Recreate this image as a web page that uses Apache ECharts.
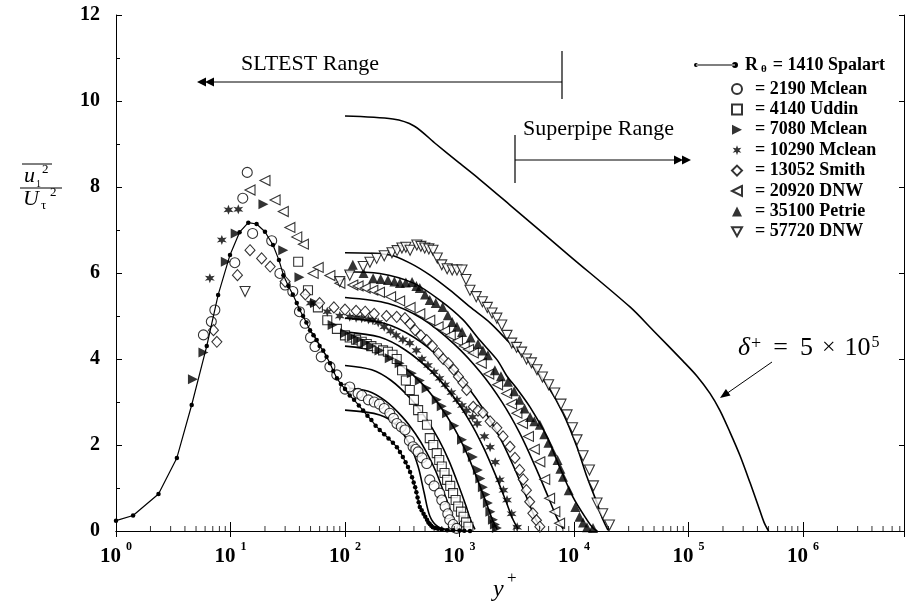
<!DOCTYPE html>
<html>
<head>
<meta charset="utf-8">
<script src="https://cdn.jsdelivr.net/npm/echarts@6/dist/echarts.min.js"></script>
<style>
  html, body { margin: 0; padding: 0; background: #fff; }
  #chart { width: 906px; height: 607px; }
</style>
</head>
<body>
<div id="chart"></div>
<script>
// ---- legend names (Reynolds number R_theta and source) ----
const names = ['1410 Spalart', '2190 Mclean', '4140 Uddin', '7080 Mclean', '10290 Mclean',
               '13052 Smith', '20920 DNW', '35100 Petrie', '57720 DNW'];

// ---- measured data: [y+, u1^2/Utau^2] ----
const spalart1410 = [[1.0,0.24],[1.41,0.36],[2.35,0.86],[3.4,1.7],[4.58,2.93],[6.2,4.3],[7.8,5.49],[9.9,6.42],
  [12.0,6.95],[14.3,7.17],[16.9,7.14],[20.0,6.96],[23.5,6.65],[26.5,6.3],[29.0,5.95],[32.0,5.7],[35,5.5],
  [37.9,5.3],[40,5.15],[43,5.0],[46,4.85],[49.5,4.67],[53,4.55],[56.6,4.44],[60,4.3],[64.5,4.2],[69,4.05],
  [74,3.9],[79,3.72],[85,3.55],[92,3.42],[100,3.3],[110,3.15],[120,3.05],[132,2.92],[144,2.8],[157,2.68],
  [170,2.58],[185,2.45],[201,2.35],[220,2.25],[240,2.15],[262,2.05],[284,1.95],[302,1.84],[320,1.72],
  [338,1.6],[355,1.49],[370,1.37],[385,1.25],[398,1.13],[410,1.02],[420,0.9],[430,0.78],[440,0.67],
  [450,0.56],[467,0.48],[485,0.4],[502,0.33],[520,0.26],[535,0.2],[550,0.16],[567,0.12],[585,0.09],
  [615,0.07],[650,0.05],[700,0.035],[780,0.02],[880,0.015],[1000,0.01],[1100,0.005],[1235,0.0]];
const mclean2190 = [[5.8,4.56],[6.8,4.87],[7.3,5.14],[10.9,6.24],[12.8,7.74],[14.0,8.34],[15.6,6.92],[22.9,6.75],
  [27,5.99],[30,5.72],[35,5.57],[40,5.1],[44.8,4.83],[50,4.5],[54.7,4.29],[62,4.05],[73.8,3.82],[84.8,3.63],
  [100,3.3],[110,3.35],[130,3.2],[140,3.15],[160,3.05],[180,3.0],[200,2.95],[220,2.85],[246,2.74],[265,2.62],
  [284,2.5],[310,2.42],[334,2.35],[365,2.1],[393,1.96],[415,1.9],[435,1.84],[470,1.7],[517,1.57],[550,1.19],
  [600,1.05],[672,0.88],[700,0.72],[748,0.57],[790,0.4],[821,0.26],[880,0.15],[945,0.06]];
const uddin4140 = [[39,6.26],[47.5,5.6],[58,5.2],[70,4.9],[85,4.7],[100,4.55],[110,4.5],[125,4.45],[140,4.4],
  [155,4.35],[170,4.3],[190,4.25],[215,4.2],[237,4.17],[260,4.1],[283,4.0],[315,3.74],[340,3.5],[368,3.28],
  [400,3.05],[435,2.81],[475,2.65],[520,2.47],[550,2.16],[590,2.0],[633,1.81],[665,1.65],[700,1.5],[740,1.35],
  [779,1.19],[830,1.05],[879,0.88],[925,0.72],[974,0.57],[1030,0.45],[1085,0.33],[1140,0.2],[1195,0.1]];
const mclean7080 = [[4.7,3.53],[5.8,4.15],[9.1,6.26],[11.1,6.92],[19.4,7.6],[28.9,6.53],[40,5.9],[55,5.3],
  [78,4.79],[100,4.6],[115,4.52],[130,4.45],[150,4.38],[170,4.3],[200,4.2],[246,4.02],[300,3.9],[383,3.67],
  [450,3.5],[516,3.32],[633,3.05],[700,2.9],[779,2.74],[900,2.45],[1052,2.12],[1180,1.92],[1309,1.72],
  [1446,1.42],[1520,1.22],[1600,1.02],[1680,0.85],[1770,0.65],[1860,0.45],[1958,0.26],[2040,0.15],[2120,0.07]];
const mclean10290 = [[6.6,5.88],[8.4,6.77],[9.6,7.47],[11.7,7.48],[50,5.3],[70,5.1],[90,5.0],[110,4.98],
  [125,4.96],[140,4.95],[160,4.92],[175,4.9],[195,4.85],[220,4.75],[250,4.65],[280,4.55],[320,4.45],[368,4.37],
  [420,4.2],[470,4.0],[530,3.85],[600,3.7],[670,3.55],[750,3.4],[850,3.22],[950,3.05],[1050,2.92],[1150,2.8],
  [1300,2.65],[1426,2.5],[1650,2.2],[1850,1.95],[2050,1.6],[2250,1.19],[2420,0.95],[2600,0.72],[2850,0.4],
  [3190,0.09]];
const smith13052 = [[7.1,4.67],[7.6,4.4],[11.5,5.95],[14.8,6.53],[18.7,6.34],[22.2,6.15],[30,5.8],[45,5.5],
  [60,5.3],[80,5.2],[100,5.15],[125,5.12],[150,5.1],[180,5.05],[230,5.0],[283,4.98],[334,4.95],[370,4.82],
  [410,4.67],[460,4.55],[517,4.44],[580,4.3],[655,4.13],[720,4.0],[800,3.9],[890,3.75],[979,3.59],[1070,3.45],
  [1155,3.28],[1317,2.89],[1450,2.8],[1600,2.75],[1850,2.55],[2120,2.4],[2400,2.2],[2760,1.96],[3050,1.7],
  [3350,1.42],[3600,1.2],[3840,0.95],[4100,0.68],[4370,0.41],[4700,0.25],[5030,0.1]];
const dnw20920 = [[14.8,7.93],[20,8.15],[24.5,7.7],[28.9,7.43],[33,7.06],[37.9,6.84],[43.3,6.67],[52.7,5.99],
  [58.3,6.13],[73.8,5.94],[90.2,5.76],[117,5.72],[130,5.7],[150,5.65],[175,5.6],[200,5.55],[250,5.45],[300,5.35],
  [370,5.2],[450,5.05],[550,4.9],[650,4.75],[740,4.65],[830,4.55],[960,4.42],[1100,4.3],[1200,4.22],[1320,4.14],
  [1550,3.9],[1800,3.65],[2150,3.4],[2580,3.2],[2850,2.95],[3170,2.74],[3550,2.5],[4000,2.2],[4500,1.9],
  [5030,1.61],[5550,1.2],[6120,0.76],[6800,0.45],[7480,0.18]];
const petrie35100 = [[117,6.19],[145,6.0],[176,5.88],[205,5.86],[237,5.84],[270,5.8],[302,5.77],[340,5.78],
  [385,5.79],[420,5.7],[450,5.65],[500,5.5],[550,5.37],[620,5.3],[712,5.21],[790,5.02],[863,4.86],[950,4.75],
  [1052,4.63],[1250,4.5],[1450,4.35],[1600,4.2],[1770,4.09],[2036,3.74],[2300,3.6],[2650,3.47],[3000,3.25],
  [3350,3.05],[3700,2.85],[4130,2.65],[4500,2.55],[5030,2.47],[5500,2.25],[5980,2.05],[6500,1.85],[7180,1.65],
  [7600,1.45],[8010,1.26],[9000,0.95],[10260,0.56],[11170,0.33],[12000,0.2],[12970,0.09],[14650,0.07]];
const dnw57720 = [[13.4,5.57],[90,5.8],[110,5.95],[144,6.15],[165,6.25],[189,6.34],[220,6.4],[257,6.47],
  [285,6.52],[314,6.58],[340,6.6],[370,6.53],[424,6.65],[460,6.62],[497,6.58],[540,6.56],[587,6.53],[640,6.35],
  [700,6.19],[780,6.1],[863,6.07],[950,6.07],[1052,6.07],[1140,5.85],[1235,5.6],[1400,5.45],[1585,5.33],
  [1750,5.2],[1925,5.07],[2120,4.95],[2340,4.79],[2600,4.55],[2860,4.37],[3150,4.27],[3490,4.16],[3850,4.0],
  [4250,3.91],[4750,3.75],[5300,3.58],[6000,3.4],[6790,3.21],[7700,2.95],[8700,2.7],[9700,2.4],[10630,2.12],
  [12000,1.75],[13650,1.42],[14800,1.05],[15900,0.65],[17800,0.4],[20400,0.14]];

// ---- predicted profiles from y+ = 100 outward, one per R_theta ----
const fit1410 = [[100,2.81],[201,2.7],[284,2.45],[368,2.0],[435,1.5],[490,0.9],[550,0.35],[648,0.1],[821,0.02]];
const fit2190 = [[100,3.33],[160,3.25],[224,3.03],[315,2.66],[412,2.26],[516,1.83],[618,1.4],[723,0.93],[829,0.5],[906,0.2],[971,0.03]];
const fit4140 = [[100,3.85],[171,3.75],[253,3.5],[373,3.08],[509,2.62],[661,2.12],[813,1.62],[975,1.08],[1140,0.58],[1262,0.23],[1365,0.04]];
const fit7080 = [[100,4.3],[184,4.19],[290,3.91],[466,3.44],[670,2.92],[908,2.37],[1156,1.81],[1432,1.2],[1716,0.65],[1939,0.26],[2128,0.04]];
const fit10290 = [[100,4.63],[200,4.51],[336,4.21],[575,3.7],[871,3.15],[1230,2.55],[1622,1.94],[2065,1.3],[2545,0.69],[2917,0.28],[3243,0.05]];
const fit13052 = [[100,4.95],[219,4.83],[403,4.5],[724,3.96],[1159,3.37],[1718,2.72],[2350,2.08],[3097,1.39],[3917,0.74],[4581,0.3],[5152,0.05]];
const fit20920 = [[100,5.43],[239,5.29],[470,4.94],[904,4.34],[1524,3.69],[2359,2.99],[3350,2.28],[4550,1.52],[5916,0.81],[7031,0.33],[8017,0.05]];
const fit35100 = [[100,6.03],[201,5.99],[392,5.77],[672,5.37],[1075,4.91],[1500,4.44],[2130,3.98],[2600,3.6],[3190,3.3],[4130,2.88],[5810,2.19],[7480,1.49],[9800,0.79],[12970,0.26],[14650,0.07],[16000,0.0]];
const fit57720 = [[100,6.47],[247,6.42],[370,6.23],[553,5.95],[826,5.6],[1235,5.21],[1850,4.84],[2760,4.37],[4130,3.91],[5810,3.4],[8010,2.74],[10630,1.95],[12970,1.26],[15900,0.65],[17900,0.26],[19800,0.02]];
const fitDelta5e5 = [[100,9.65],[262,9.58],[401,9.42],[623,9.0],[951,8.6],[1479,8.19],[2760,7.58],[9138,6.4],
  [30830,5.21],[48900,4.67],[89600,3.95],[118700,3.6],[154000,3.2],[188400,2.8],[230000,2.3],[282000,1.75],
  [345000,1.12],[404600,0.6],[456800,0.2],[500000,0.0]];

// ---- axes ----
const xMin = 1, xMax = 7.62e6;
const yMin = 0, yMax = 12, yStep = 2;
const decades = [1, 10, 100, 1000, 1e4, 1e5, 1e6];
// minor log ticks 2..9 in every decade, drawn along the bottom axis
const xMinorTicks = [];
decades.forEach(d => { for (let m = 2; m <= 9; m++) if (m * d < xMax) xMinorTicks.push([m * d, yMin]); });

const SERIF = '"Liberation Serif", "Times New Roman", serif';

// marker shapes
const triRight = 'path://M0,0L10,5L0,10Z';
const triLeft = 'path://M10,0L0,5L10,10Z';
const triDown = 'path://M0,0L10,0L5,9Z';
const asterisk = 'path://M5,0L6.1,3.1L9.33,2.5L7.2,5L9.33,7.5L6.1,6.9L5,10L3.9,6.9L0.67,7.5L2.8,5L0.67,2.5L3.9,3.1Z';
const spalartIcon = 'path://M0,4a2,2 0 1,0 4,0a2,2 0 1,0 -4,0Z M2,3.4H41V4.6H2Z M38,4a3,3 0 1,0 6,0a3,3 0 1,0 -6,0Z';

const hollow = { color: '#fff', borderColor: '#000', borderWidth: 1.1 };
const filled = { color: '#000', borderColor: '#000', borderWidth: 0 };

function markers(name, data, symbol, size, style) {
  return { name, type: 'scatter', data, symbol, symbolSize: size, itemStyle: style, z: 4, silent: true };
}
function fitLine(name, data) {
  return { name, type: 'line', data, showSymbol: false, smooth: 0.3, z: 3, silent: true,
           lineStyle: { color: '#000', width: 1.6 } };
}

const series = [
  { name: names[0], type: 'line', data: spalart1410, symbol: 'circle', symbolSize: 4.5, showSymbol: true,
    itemStyle: { color: '#000' }, lineStyle: { color: '#000', width: 1.2 }, z: 5, silent: true },
  markers(names[1], mclean2190, 'circle', 10, hollow),
  markers(names[2], uddin4140, 'rect', 9, hollow),
  markers(names[3], mclean7080, triRight, 10, filled),
  markers(names[4], mclean10290, asterisk, 10, filled),
  markers(names[5], smith13052, 'diamond', [10, 11], hollow),
  markers(names[6], dnw20920, triLeft, 10, hollow),
  markers(names[7], petrie35100, 'triangle', 10, filled),
  markers(names[8], dnw57720, triDown, 10, hollow),
  fitLine('fit 1410', fit1410), fitLine('fit 2190', fit2190), fitLine('fit 4140', fit4140),
  fitLine('fit 7080', fit7080), fitLine('fit 10290', fit10290), fitLine('fit 13052', fit13052),
  fitLine('fit 20920', fit20920), fitLine('fit 35100', fit35100), fitLine('fit 57720', fit57720),
  fitLine('delta+ 5e5', fitDelta5e5),
  { name: 'minor ticks', type: 'scatter', data: xMinorTicks, symbol: 'rect', symbolSize: [1, 5],
    symbolOffset: [0, -2.5], itemStyle: { color: '#000' }, z: 6, silent: true, clip: false }
];

const legendText = { fontFamily: SERIF, fontSize: 18, fontWeight: 'bold', color: '#000', lineHeight: 20,
  rich: {
    r: { fontFamily: SERIF, fontSize: 18, fontWeight: 'bold', padding: [0, 0, 0, 2] },
    s: { fontFamily: SERIF, fontSize: 11, fontWeight: 'bold', verticalAlign: 'bottom', padding: [8, 6, 0, 3] },
    t: { fontFamily: SERIF, fontSize: 18, fontWeight: 'bold', padding: [0, 0, 0, 8] },
    u: { fontFamily: SERIF, fontSize: 18, fontWeight: 'bold' }
  } };

function xLabel(v) {
  const e = Math.log10(v), k = Math.round(e);
  if (Math.abs(e - k) > 1e-6) return '';
  return '{b|10}{s|' + k + '}';
}

const option = {
  animation: false,
  backgroundColor: '#fff',
  grid: { left: 116, right: 2, top: 15, bottom: 76, containLabel: false },
  xAxis: [
    { type: 'log', logBase: 10, min: xMin, max: xMax, interval: 1, position: 'bottom',
      axisLine: { lineStyle: { color: '#000', width: 1 } },
      axisTick: { inside: true, length: 9, lineStyle: { color: '#000' } },
      splitLine: { show: false }, minorTick: { show: false },
      axisLabel: { formatter: xLabel, margin: 10, showMaxLabel: false,
        rich: {
          b: { fontFamily: SERIF, fontSize: 21, fontWeight: 'bold', color: '#000', lineHeight: 26, verticalAlign: 'bottom' },
          s: { fontFamily: SERIF, fontSize: 12, fontWeight: 'bold', color: '#000', lineHeight: 14, verticalAlign: 'top', padding: [0, 0, 0, 5] }
        } } },
    { type: 'log', logBase: 10, min: xMin, max: xMax, interval: 1, position: 'top',
      axisLine: { lineStyle: { color: '#000', width: 1 } },
      axisTick: { inside: true, length: 6, lineStyle: { color: '#000' } },
      axisLabel: { show: false }, splitLine: { show: false } }
  ],
  yAxis: [
    { type: 'value', min: yMin, max: yMax, interval: yStep, position: 'left',
      axisLine: { show: true, lineStyle: { color: '#000', width: 1 } },
      axisTick: { show: true, inside: true, length: 6, lineStyle: { color: '#000' } },
      minorTick: { show: true, splitNumber: 2, length: 4, lineStyle: { color: '#000' } },
      splitLine: { show: false },
      axisLabel: { margin: 16, fontFamily: SERIF, fontSize: 20, fontWeight: 'bold', color: '#000' } },
    { type: 'value', min: yMin, max: yMax, interval: yStep, position: 'right',
      axisLine: { show: true, lineStyle: { color: '#000', width: 1 } },
      axisTick: { show: true, inside: true, length: 5, lineStyle: { color: '#000' } },
      splitLine: { show: false }, axisLabel: { show: false } }
  ],
  legend: [
    { data: [{ name: names[0], icon: spalartIcon }], orient: 'vertical', left: 689, top: 50,
      itemWidth: 44, itemHeight: 8, selectedMode: false, textStyle: legendText,
      formatter: n => '{r|R}{s|θ}{u|= ' + n + '}' },
    { data: names.slice(1), orient: 'vertical', left: 726, top: 74, itemWidth: 10, itemHeight: 10,
      itemGap: 0.4, selectedMode: false, textStyle: legendText,
      formatter: n => '{t|= ' + n + '}' }
  ],
  graphic: [
    // SLTEST range arrow
    { type: 'line', shape: { x1: 212, y1: 82, x2: 562, y2: 82 }, style: { stroke: '#000', lineWidth: 1 } },
    { type: 'line', shape: { x1: 562, y1: 51, x2: 562, y2: 99 }, style: { stroke: '#000', lineWidth: 1.2 } },
    { type: 'polygon', shape: { points: [[197, 82], [206, 77.5], [206, 86.5]] }, style: { fill: '#000' } },
    { type: 'polygon', shape: { points: [[205, 82], [214, 77.5], [214, 86.5]] }, style: { fill: '#000' } },
    { type: 'text', x: 241, y: 64, style: { text: 'SLTEST Range', font: '22px ' + SERIF, fill: '#000', verticalAlign: 'middle' } },
    // Superpipe range arrow
    { type: 'line', shape: { x1: 515, y1: 160, x2: 678, y2: 160 }, style: { stroke: '#000', lineWidth: 1 } },
    { type: 'line', shape: { x1: 515, y1: 135, x2: 515, y2: 183 }, style: { stroke: '#000', lineWidth: 1.2 } },
    { type: 'polygon', shape: { points: [[683, 160], [674, 155.5], [674, 164.5]] }, style: { fill: '#000' } },
    { type: 'polygon', shape: { points: [[691, 160], [682, 155.5], [682, 164.5]] }, style: { fill: '#000' } },
    { type: 'text', x: 523, y: 129, style: { text: 'Superpipe Range', font: '22px ' + SERIF, fill: '#000', verticalAlign: 'middle' } },
    // delta+ label and pointer
    { type: 'text', x: 738, y: 348, style: { text: '{i|δ}{p|+}{m|=}{n|5}{x|×}{n|10}{q|5}', verticalAlign: 'middle',
        rich: {
          i: { font: 'italic 26px ' + SERIF, fill: '#000' },
          p: { font: '18px ' + SERIF, fill: '#000', verticalAlign: 'top', padding: [0, 0, 8, 1] },
          m: { font: '26px ' + SERIF, fill: '#000', padding: [0, 12, 0, 12] },
          n: { font: '26px ' + SERIF, fill: '#000' },
          x: { font: '24px ' + SERIF, fill: '#000', padding: [0, 9, 0, 9] },
          q: { font: '16px ' + SERIF, fill: '#000', verticalAlign: 'top', padding: [0, 0, 8, 1] }
        } } },
    { type: 'line', shape: { x1: 772, y1: 362, x2: 726, y2: 394 }, style: { stroke: '#000', lineWidth: 1 } },
    { type: 'polygon', shape: { points: [[720, 398], [730.5, 395.6], [725.9, 389.0]] }, style: { fill: '#000' } },
    // y-axis title: overline(u_1^2) / U_tau^2
    { type: 'line', shape: { x1: 22, y1: 164, x2: 52, y2: 164 }, style: { stroke: '#000', lineWidth: 1 } },
    { type: 'text', x: 24, y: 176, style: { text: 'u', font: 'italic 22px ' + SERIF, fill: '#000', verticalAlign: 'middle' } },
    { type: 'text', x: 42, y: 170, style: { text: '2', font: '13px ' + SERIF, fill: '#000', verticalAlign: 'middle' } },
    { type: 'text', x: 36, y: 184, style: { text: '1', font: '10px ' + SERIF, fill: '#000', verticalAlign: 'middle' } },
    { type: 'line', shape: { x1: 20, y1: 188, x2: 62, y2: 188 }, style: { stroke: '#000', lineWidth: 1 } },
    { type: 'text', x: 23, y: 199, style: { text: 'U', font: 'italic 22px ' + SERIF, fill: '#000', verticalAlign: 'middle' } },
    { type: 'text', x: 41, y: 206, style: { text: 'τ', font: '13px ' + SERIF, fill: '#000', verticalAlign: 'middle' } },
    { type: 'text', x: 50, y: 193, style: { text: '2', font: '13px ' + SERIF, fill: '#000', verticalAlign: 'middle' } },
    // x-axis title y+
    { type: 'text', x: 493, y: 590, style: { text: 'y', font: 'italic 24px ' + SERIF, fill: '#000', verticalAlign: 'middle' } },
    { type: 'text', x: 507, y: 579, style: { text: '+', font: '17px ' + SERIF, fill: '#000', verticalAlign: 'middle' } }
  ],
  series
};

const chart = echarts.init(document.getElementById('chart'), null, { renderer: 'canvas' });
chart.setOption(option);
</script>
</body>
</html>
